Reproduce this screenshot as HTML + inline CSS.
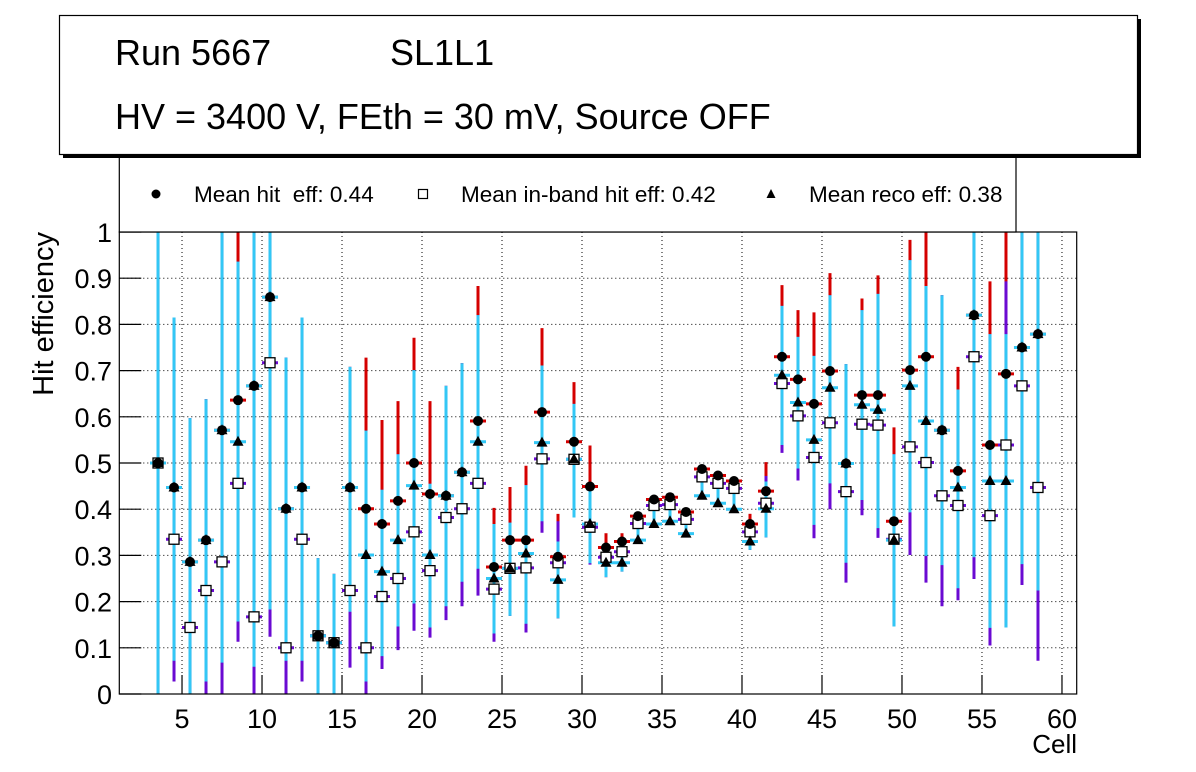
<!DOCTYPE html>
<html><head><meta charset="utf-8"><style>
html,body{margin:0;padding:0;background:#fff;}
svg{display:block;font-family:"Liberation Sans",Arial,sans-serif;}
</style></head><body>
<svg id="chart" width="1196" height="772" viewBox="0 0 1196 772" xmlns="http://www.w3.org/2000/svg">
<rect x="0" y="0" width="1196" height="772" fill="#fff"/>
<g id="grid"></g>
<g id="bars"></g>
<g id="marks"></g>
<rect x="119.3" y="232" width="957.4" height="462" fill="none" stroke="#000" stroke-width="1.2"/>
<g id="axes"></g>
<text x="0" y="0" transform="translate(53,232) rotate(-90)" text-anchor="end" font-size="29">Hit efficiency</text>
<text x="1077" y="753" text-anchor="end" font-size="26">Cell</text>
<g>
<rect x="119.3" y="140" width="896.7" height="92" fill="#fff" stroke="#000" stroke-width="1.2"/>
<circle cx="156" cy="194" r="4.5" fill="#000"/>
<text x="194" y="202" font-size="22.5">Mean hit&#160; eff: 0.44</text>
<rect x="418.5" y="189.5" width="9" height="9" fill="#fff" stroke="#000" stroke-width="1.2"/>
<text x="461" y="202" font-size="22.5">Mean in-band hit eff: 0.42</text>
<polygon points="771,189 775.5,198 766.5,198" fill="#000"/>
<text x="809" y="202" font-size="22.5">Mean reco eff: 0.38</text>
</g>
<g>
<rect x="63" y="19" width="1078" height="139" fill="#000"/>
<rect x="59.5" y="15.5" width="1078" height="139" fill="#fff" stroke="#000" stroke-width="1.2"/>
<text x="115" y="65" font-size="36">Run 5667</text>
<text x="390" y="65" font-size="36">SL1L1</text>
<text x="115" y="129" font-size="36">HV = 3400 V, FEth = 30 mV, Source OFF</text>
</g>
</svg>
<script>
const cells=[3.5,4.5,5.5,6.5,7.5,8.5,9.5,10.5,11.5,12.5,13.5,14.5,15.5,16.5,17.5,18.5,19.5,20.5,21.5,22.5,23.5,24.5,25.5,26.5,27.5,28.5,29.5,30.5,31.5,32.5,33.5,34.5,35.5,36.5,37.5,38.5,39.5,40.5,41.5,42.5,43.5,44.5,45.5,46.5,47.5,48.5,49.5,50.5,51.5,52.5,53.5,54.5,55.5,56.5,57.5,58.5];
const hitEff=[.50,.447,.286,.333,.571,.636,.667,.859,.401,.447,.126,.111,.447,.401,.368,.418,.50,.433,.429,.480,.591,.275,.333,.333,.61,.297,.546,.449,.317,.330,.385,.421,.426,.394,.487,.473,.461,.368,.439,.730,.681,.628,.699,.499,.647,.647,.374,.701,.730,.571,.483,.820,.539,.693,.750,.779];
const bandEff=[.50,.335,.144,.224,.286,.456,.167,.717,.100,.335,.126,.111,.224,.100,.211,.25,.351,.267,.382,.401,.456,.227,.272,.273,.509,.284,.508,.361,.296,.308,.369,.408,.410,.378,.470,.456,.445,.351,.413,.672,.602,.512,.587,.438,.584,.582,.335,.535,.501,.429,.408,.730,.386,.539,.667,.447];
const recoEff=[.50,.447,.286,.333,.571,.546,.667,.859,.401,.447,.126,.111,.447,.301,.265,.333,.451,.301,.429,.480,.546,.25,.272,.304,.544,.247,.508,.368,.284,.284,.333,.368,.374,.347,.429,.413,.400,.330,.401,.690,.631,.55,.663,.499,.626,.615,.333,.667,.591,.571,.447,.820,.461,.461,.750,.779];
const hitHi=[1,.815,.597,.638,1,1,1,1,.728,.815,.294,.26,.708,.728,.593,.634,.771,.634,.667,.716,.883,.403,.448,.494,.792,.39,.675,.538,.348,.348,.385,.421,.426,.394,.487,.473,.461,.39,.502,.885,.831,.826,.911,.714,.856,.906,.577,.983,1,.863,.708,1,.893,1,1,1];
const bandHi=[1,.815,.597,.638,1,.936,1,1,.728,.815,.294,.26,.708,.570,.442,.519,.701,.455,.667,.716,.82,.368,.371,.452,.711,.374,.628,.449,.317,.33,.385,.421,.426,.394,.487,.473,.461,.368,.472,.84,.773,.732,.863,.714,.831,.866,.519,.939,.883,.863,.659,1,.779,.893,1,1];
const bandLo=[0,.027,0,0,0,.113,0,.124,0,.027,0,0,.057,0,.054,.095,.137,.122,.16,.19,.213,.113,.169,.133,.349,.164,.382,.28,.253,.265,.333,.368,.374,.347,.429,.413,.4,.312,.339,.522,.462,.337,.400,.241,.387,.338,.146,.301,.241,.19,.203,.249,.105,.144,.236,.072];
const recoHi=[1,.815,.597,.638,1,.936,1,1,.728,.815,.294,.26,.708,.570,.442,.519,.701,.455,.667,.716,.82,.368,.371,.452,.711,.33,.628,.449,.317,.33,.385,.421,.426,.394,.487,.473,.461,.368,.46,.84,.773,.732,.863,.714,.831,.866,.519,.939,.883,.863,.659,1,.779,.779,1,1];
const recoLo=[0,.072,0,.027,.068,.157,.059,.183,.072,.072,0,0,.178,.027,.082,.146,.196,.144,.19,.243,.271,.131,.169,.152,.374,.164,.382,.283,.253,.265,.333,.368,.374,.347,.429,.413,.4,.312,.339,.539,.488,.366,.456,.284,.420,.359,.146,.393,.299,.279,.229,.296,.143,.144,.281,.224];
const xTicks=[5,10,15,20,25,30,35,40,45,50,55,60];
const yTicks=[0,0.1,0.2,0.3,0.4,0.5,0.6,0.7,0.8,0.9,1];
const yTickLabels=["0","0.1","0.2","0.3","0.4","0.5","0.6","0.7","0.8","0.9","1"];

const NS="http://www.w3.org/2000/svg";
const X0=119.3,X1=1076.7,XMIN=1.08,XMAX=60.92,Y0=694,Y1=232;
function sx(v){return X0+(v-XMIN)/(XMAX-XMIN)*(X1-X0);}
function sy(v){return Y0-(Math.min(Math.max(v,0),1))*(Y0-Y1);}
function mk(tag,attrs,parent){const e=document.createElementNS(NS,tag);for(const k in attrs)e.setAttribute(k,attrs[k]);parent.appendChild(e);return e;}
const grid=document.getElementById('grid'),axes=document.getElementById('axes'),bars=document.getElementById('bars'),marks=document.getElementById('marks');

xTicks.forEach(t=>{
  const x=sx(t);
  const g=mk('line',{x1:x,x2:x,y1:Y1,y2:Y0,stroke:'#000','stroke-width':1,'stroke-dasharray':'1 3'},grid);
  
  
  const tk=mk('line',{x1:x,x2:x,y1:Y0,y2:Y0-19,stroke:'#000','stroke-width':1.2},axes);
  
  
  const lb=mk('text',{x:x,y:728,'text-anchor':'middle','font-size':27},axes);
  lb.textContent=String(t);
  
  
});
yTicks.forEach((t,i)=>{
  const y=sy(t);
  const g=mk('line',{x1:X0,x2:X1,y1:y,y2:y,stroke:'#000','stroke-width':1,'stroke-dasharray':'1 3'},grid);
  
  
  const tk=mk('line',{x1:X0,x2:X0+22,y1:y,y2:y,stroke:'#000','stroke-width':1.2},axes);
  
  
  const lb=mk('text',{x:112,y:y+10,'text-anchor':'end','font-size':27},axes);
  lb.textContent=yTickLabels[i];
  
  
});

const RED='#d40000',PUR='#6a0ad2',CYA='#33c7f5';
function vbar(x,lo,hi,col){
  const l=mk('line',{x1:x,x2:x,y1:sy(lo),y2:sy(hi),stroke:col,'stroke-width':3},bars);
  
  
}
function hbar(x,v,col){
  const l=mk('line',{x1:x-8,x2:x+8,y1:sy(v),y2:sy(v),stroke:col,'stroke-width':3},bars);
  
  
}
cells.forEach((c,i)=>{
  const x=sx(c);
  vbar(x,recoLo[i],hitHi[i],RED);
  hbar(x,hitEff[i],RED);
  vbar(x,bandLo[i],bandHi[i],PUR);
  hbar(x,bandEff[i],PUR);
  vbar(x,recoLo[i],recoHi[i],CYA);
  hbar(x,recoEff[i],CYA);
});
cells.forEach((c,i)=>{
  const x=sx(c),y=sy(bandEff[i]);
  const s=mk('rect',{x:x-5,y:y-5,width:10,height:10,fill:'#fff',stroke:'#000','stroke-width':1.3},marks);
  
  
});
cells.forEach((c,i)=>{
  const p=mk('circle',{cx:sx(c),cy:sy(hitEff[i]),r:5,fill:'#000'},marks);
  
  
});
cells.forEach((c,i)=>{
  const x=sx(c),y=sy(recoEff[i]);
  const t=mk('polygon',{points:`${x},${y-6} ${x+5.5},${y+4} ${x-5.5},${y+4}`,fill:'#000'},marks);
  
  
});
</script>
</body></html>
